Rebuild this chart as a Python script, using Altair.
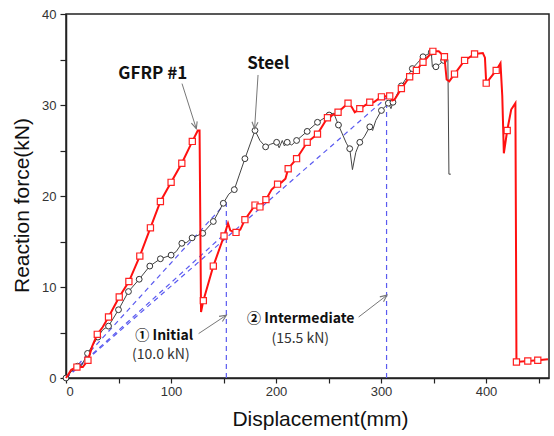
import math
import altair as alt
import pandas as pd

W, H = 483, 364
XMAX, YMAX = 460, 40

# ---------------- data ----------------
GFRP_X = [0, 5, 10.4, 16, 20.9, 25, 29.8, 35, 40.5, 50.7, 59.9, 70.3, 80.4, 89.9, 100.1, 110.3,
          120.3, 125.5, 127.2, 128.6, 130.8, 140.3, 150.5, 154.3, 156.5, 161.9, 166, 170.4, 180,
          184.7, 190.4, 195.8, 201.5, 205.3, 209, 211.6, 219.6, 229.7, 239.5, 249, 259.1, 268.6,
          272, 275, 279.8, 284, 289.3, 293, 300.4, 308.3, 310.8, 313, 319.4, 327.3, 333.7, 340,
          349.4, 355, 360.4, 362.5, 365, 370, 379.6, 389.1, 397, 399, 400.2, 409.7, 413.8, 415.5,
          417, 420.2, 424, 428, 428.6, 429, 439.8, 449.3, 459]
GFRP_Y = [0, 0.9, 1.2, 1.2, 1.95, 3.5, 4.8, 5.6, 6.7, 8.9, 10.6, 13.4, 16.5, 19.4, 21.5, 23.6,
          26.0, 27.2, 27.2, 7.25, 8.5, 12.3, 15.6, 17.0, 16.2, 16.0, 16.3, 17.4, 19.0,
          18.8, 19.6, 20.7, 21.3, 21.5, 21.9, 23.0, 24.1, 25.9, 26.8, 28.6, 29.2, 30.2,
          29.8, 29.2, 29.6, 29.9, 30.3, 30.3, 30.9, 31.0, 30.5, 30.6, 31.8, 33.1, 33.8, 34.7,
          35.9, 35.9, 35.3, 32.8, 32.6, 33.4, 34.9, 35.6, 35.7, 35.2, 32.4, 33.8, 34.6, 31.0,
          24.7, 27.2, 29.5, 30.2, 14.0, 1.76, 1.87, 1.95, 2.05]
GFRP_MARK = [0, 0, 1, 0, 1, 0, 1, 0, 1, 1, 1, 1, 1, 1, 1, 1,
             1, 0, 0, 0, 1, 1, 1, 0, 0, 1, 0, 1, 1,
             1, 1, 0, 1, 0, 0, 1, 1, 1, 1, 1, 1, 1,
             0, 0, 1, 0, 1, 0, 1, 1, 0, 0, 1, 1, 1, 1,
             1, 0, 1, 0, 0, 1, 1, 1, 0, 0, 1, 1, 0, 0,
             0, 1, 0, 0, 0, 1, 1, 1, 0]

STEEL_X = [0, 5, 11, 15, 20.5, 30.4, 35, 40.5, 50, 59.5, 69.7, 79.8, 89.9, 100.1, 105, 110.3,
           115, 120.1, 130.2, 140.3, 149.8, 155, 160.3, 165, 170.4, 180, 184.7, 190.1, 195,
           200.6, 203, 206, 208, 210.7, 215, 219.6, 229.7, 239.5, 250.6, 255, 259.5, 267,
           270.2, 272.8, 276, 279.8, 284, 289.3, 292, 295, 300.4, 307, 309.5, 311.4, 319.4,
           329.8, 340, 347.9, 348.9, 352.3, 356, 359.6, 363.7, 364.7, 366.5]
STEEL_Y = [0, 0.7, 1.3, 1.4, 2.7, 4.5, 5.3, 5.7, 7.5, 9.5, 10.85, 12.3, 13.1, 13.5, 13.9, 14.8,
           14.9, 15.4, 15.9, 17.2, 19.2, 20.2, 20.7, 22.3, 24.1, 27.2, 26.1, 25.4, 25.7,
           25.9, 25.3, 26.1, 25.5, 25.9, 25.6, 26.1, 27.1, 28.1, 28.9, 29.1, 27.8, 25.8,
           25.2, 22.9, 24.8, 25.9, 26.5, 27.6, 27.2, 28.3, 29.4, 30.2, 29.6, 30.3, 32.1,
           34.0, 35.3, 35.8, 34.2, 34.2, 34.5, 34.9, 35.0, 22.4, 22.4]
STEEL_MARK = [1, 0, 1, 0, 1, 1, 0, 1, 1, 1, 1, 1, 1, 1, 0, 1,
              0, 1, 1, 1, 1, 0, 1, 0, 1, 1, 0, 1, 0,
              1, 0, 0, 0, 1, 0, 1, 1, 1, 1, 0, 1, 0,
              1, 0, 0, 1, 0, 1, 0, 0, 1, 1, 0, 1, 1,
              1, 1, 1, 0, 1, 0, 1, 0, 0, 0]

SECANT_ID = ["steel_initial", "gfrp_initial", "intermediate"]
SECANT_END_X = [152.7, 152.7, 305.3]
SECANT_END_Y = [19.3, 16.0, 30.8]
VLINE_X = [152.7, 305.3]
VLINE_TOP = [19.3, 31.0]

LABEL_TEXT = ["GFRP #1", "Steel"]
LABEL_X = [82.7, 192.7]
LABEL_Y = [33.4, 34.5]
STAGE_TEXT = ["\u2460 Initial", "\u2461 Intermediate"]
STAGE_X = [93.6, 223.6]
STAGE_Y = [4.58, 6.45]
LOAD_TEXT = ["(10.0 kN)", "(15.5 kN)"]
LOAD_X = [90.3, 223.1]
LOAD_Y = [2.5, 4.25]

ARROW_X1 = [110.5, 182.9, 126.3, 278.7]
ARROW_Y1 = [32.35, 33.3, 4.88, 6.7]
ARROW_X2 = [124.1, 179.6, 152.7, 305.7]
ARROW_Y2 = [27.4, 27.4, 6.9, 9.1]

# ---------------- tables ----------------
gfrp = pd.DataFrame({"x": GFRP_X, "y": GFRP_Y, "m": GFRP_MARK})
steel = pd.DataFrame({"x": STEEL_X, "y": STEEL_Y, "m": STEEL_MARK})

sec_rows = []
for i, (ex, ey) in enumerate(zip(SECANT_END_X, SECANT_END_Y)):
    sec_rows.append({"id": SECANT_ID[i], "o": 0, "x": 0.0, "y": 0.0})
    sec_rows.append({"id": SECANT_ID[i], "o": 1, "x": ex, "y": ey})
secant = pd.DataFrame(sec_rows)
vline = pd.DataFrame({"x": VLINE_X, "y": [0.0] * len(VLINE_X), "y2": VLINE_TOP})

labels = pd.DataFrame({"x": LABEL_X, "y": LABEL_Y, "t": LABEL_TEXT})
stages = pd.DataFrame({"x": STAGE_X, "y": STAGE_Y, "t": STAGE_TEXT})
loads = pd.DataFrame({"x": LOAD_X, "y": LOAD_Y, "t": LOAD_TEXT})

sx, sy = W / XMAX, H / YMAX
angles = []
for x1, y1, x2, y2 in zip(ARROW_X1, ARROW_Y1, ARROW_X2, ARROW_Y2):
    dx = (x2 - x1) * sx
    dy = -(y2 - y1) * sy
    angles.append(math.degrees(math.atan2(dx, -dy)) % 360)
arrows = pd.DataFrame({"x": ARROW_X1, "y": ARROW_Y1, "x2": ARROW_X2, "y2": ARROW_Y2, "a": angles})

# ---------------- scales / axes ----------------
AX_FONT = "Liberation Sans"
ANN_FONT = "Noto Sans CJK KR"

xscale = alt.Scale(domain=[0, XMAX], nice=False, zero=False)
yscale = alt.Scale(domain=[0, YMAX], nice=False, zero=False)

xaxis = alt.Axis(
    values=list(range(0, 451, 50)),
    labelExpr="datum.value % 100 === 0 ? datum.label : ''",
    tickSize=5, tickColor="#222", tickWidth=1.2,
    domainColor="#222", domainWidth=1.5,
    labelFont=AX_FONT, labelFontSize=13, labelColor="#333", labelPadding=2,
    title="Displacement(mm)", titleFont=AX_FONT, titleFontSize=21,
    titleFontWeight="normal", titleColor="#111",
    titleX=254, titleY=47, titleBaseline="alphabetic", titleAlign="center",
    grid=False,
)
yaxis = alt.Axis(
    values=list(range(0, 41, 5)),
    labelExpr="datum.value % 10 === 0 ? datum.label : ''",
    tickSize=6, tickColor="#222", tickWidth=1.2,
    domainColor="#222", domainWidth=1.5,
    labelFont=AX_FONT, labelFontSize=13, labelColor="#333", labelPadding=4,
    title="Reaction force(kN)", titleFont=AX_FONT, titleFontSize=21,
    titleFontWeight="normal", titleColor="#111",
    titleX=-44, titleY=191, titleBaseline="middle", titleAlign="center",
    grid=False,
)

X = alt.X("x:Q", scale=xscale, axis=xaxis)
Y = alt.Y("y:Q", scale=yscale, axis=yaxis)

BLUE = "#5a5af0"

secant_layer = alt.Chart(secant).mark_line(
    color=BLUE, strokeDash=[5, 4], strokeWidth=1.2
).encode(x=X, y=Y, detail="id:N", order="o:Q")

vline_layer = alt.Chart(vline).mark_rule(
    color=BLUE, strokeDash=[5, 4], strokeWidth=1.2
).encode(x=X, y=Y, y2="y2:Q")

steel_line = alt.Chart(steel).mark_line(color="#444", strokeWidth=1).encode(
    x=X, y=Y, order=alt.Order("x:Q"))
steel_pts = alt.Chart(steel).transform_filter("datum.m == 1").mark_point(
    shape="circle", size=34, filled=True, fill="white", stroke="#333", strokeWidth=1, opacity=1
).encode(x=X, y=Y)

gfrp_line = alt.Chart(gfrp).mark_line(color="#ff1010", strokeWidth=2).encode(
    x=X, y=Y, order=alt.Order("x:Q"))
gfrp_pts = alt.Chart(gfrp).transform_filter("datum.m == 1").mark_point(
    shape="square", size=38, filled=True, fill="white", stroke="#ff2020", strokeWidth=1.2, opacity=1
).encode(x=X, y=Y)

arrow_lines = alt.Chart(arrows).mark_rule(color="#777", strokeWidth=1).encode(
    x=X, y=Y, x2="x2:Q", y2="y2:Q")
arrow_heads = alt.Chart(arrows).mark_point(
    shape="M-0.45,1L0,0L0.45,1", size=180, filled=False, stroke="#777", strokeWidth=1.1, opacity=1
).encode(x=alt.X("x2:Q", scale=xscale, axis=xaxis), y=alt.Y("y2:Q", scale=yscale, axis=yaxis),
         angle=alt.Angle("a:Q", scale=None))

label_layer = alt.Chart(labels).mark_text(
    font=ANN_FONT, fontSize=17, fontWeight="bold", color="#111", align="center", baseline="middle"
).encode(x=X, y=Y, text="t:N")
stage_layer = alt.Chart(stages).mark_text(
    font=ANN_FONT, fontSize=14, fontWeight="bold", color="#111", align="center", baseline="middle"
).encode(x=X, y=Y, text="t:N")
load_layer = alt.Chart(loads).mark_text(
    font=ANN_FONT, fontSize=14, fontWeight="normal", color="#333", align="center", baseline="middle"
).encode(x=X, y=Y, text="t:N")

chart = alt.layer(
    secant_layer, vline_layer, steel_line, steel_pts, gfrp_line, gfrp_pts,
    arrow_lines, arrow_heads, label_layer, stage_layer, load_layer,
).properties(
    width=W, height=H,
    autosize=alt.AutoSizeParams(type="none"),
    padding={"left": 66, "top": 14, "right": 5, "bottom": 58},
    background="white",
).configure_view(stroke="#222", strokeWidth=1.5)

chart.save("out.html", embed_options={"renderer": "svg", "actions": False})
